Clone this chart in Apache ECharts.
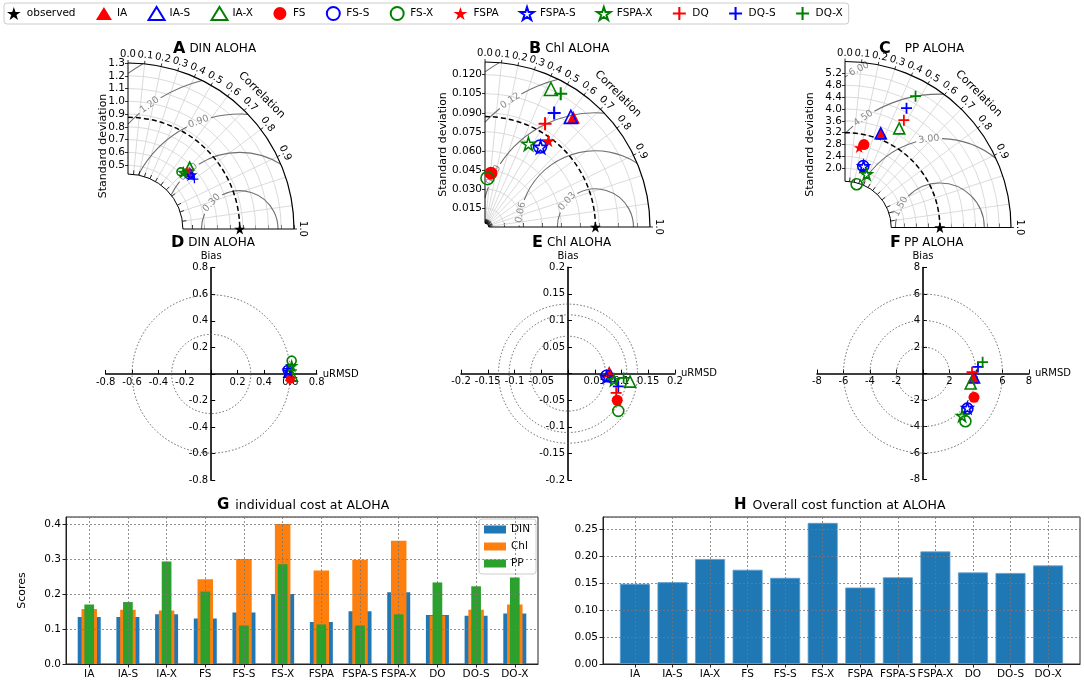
<!DOCTYPE html>
<html>
<head>
<meta charset="utf-8">
<script src="https://cdn.jsdelivr.net/npm/echarts@6.0.0/dist/echarts.min.js"></script>
<style>html,body{margin:0;padding:0;background:#fff}#c{width:1084px;height:686px}</style>
</head>
<body>
<div id="c"></div>
<script>
// ================= DATA =================
const models = ['IA','IA-S','IA-X','FS','FS-S','FS-X','FSPA','FSPA-S','FSPA-X','DQ','DQ-S','DQ-X'];

// Taylor diagrams: standard deviation and correlation of each model
const dinStd  = [0.650, 0.655, 0.690, 0.640, 0.640, 0.610, 0.645, 0.650, 0.620, 0.660, 0.650, 0.630];
const dinCorr = [0.730, 0.740, 0.700, 0.720, 0.750, 0.680, 0.735, 0.760, 0.700, 0.730, 0.800, 0.720];
const dinObsStd = 0.875;
const chlStd  = [0.1110, 0.1100, 0.1205, 0.0427, 0.0768, 0.0385, 0.0843, 0.0768, 0.0739, 0.0941, 0.1050, 0.1208];
const chlCorr = [0.627, 0.615, 0.431, 0.110, 0.565, 0.050, 0.593, 0.570, 0.463, 0.503, 0.519, 0.494];
const chlObsStd = 0.087;
const ppStd  = [3.37, 3.40, 3.81, 2.87, 2.16, 1.51, 2.74, 2.16, 1.94, 4.13, 4.53, 5.03];
const ppCorr = [0.360, 0.355, 0.480, 0.223, 0.285, 0.260, 0.175, 0.290, 0.375, 0.481, 0.458, 0.473];
const ppObsStd = 3.2;

// Taylor axis ticks / contour levels
const corrGridTicks  = [0.1, 0.2, 0.3, 0.4, 0.5, 0.6, 0.7, 0.8, 0.9, 0.95, 0.99];
const corrTickLabels = [0.0, 0.1, 0.2, 0.3, 0.4, 0.5, 0.6, 0.7, 0.8, 0.9, 1.0];
const dinStdTicks = [0.5, 0.6, 0.7, 0.8, 0.9, 1.0, 1.1, 1.2, 1.3];
const chlStdTicks = [0.015, 0.030, 0.045, 0.060, 0.075, 0.090, 0.105, 0.120];
const ppStdTicks  = [2.0, 2.4, 2.8, 3.2, 3.6, 4.0, 4.4, 4.8, 5.2];
const dinRmsLevels = [0.3, 0.6, 0.9, 1.2, 1.5];
const chlRmsLevels = [0.03, 0.06, 0.09, 0.12, 0.15];
const ppRmsLevels  = [1.5, 3.0, 4.5, 6.0];

// Target diagrams: unbiased RMSD and bias of each model
const dinURMSD = [0.600, 0.585, 0.620, 0.600, 0.580, 0.610, 0.605, 0.585, 0.610, 0.595, 0.575, 0.615];
const dinBias  = [0.000, 0.010, -0.020, -0.040, 0.030, 0.100, -0.030, 0.020, 0.060, -0.050, 0.040, 0.030];
const chlURMSD = [0.077, 0.080, 0.116, 0.092, 0.072, 0.094, 0.079, 0.072, 0.086, 0.090, 0.094, 0.104];
const chlBias  = [0.004, -0.005, -0.015, -0.050, -0.004, -0.070, -0.003, -0.006, -0.012, -0.036, -0.024, -0.008];
const ppURMSD  = [3.85, 3.85, 3.60, 3.85, 3.35, 3.20, 3.85, 3.35, 2.95, 3.70, 4.15, 4.50];
const ppBias   = [-0.30, -0.30, -0.75, -1.80, -2.65, -3.60, -1.80, -2.60, -3.20, 0.10, 0.50, 0.85];
const dinCircles = [0.3, 0.6];
const chlCircles = [0.07, 0.11, 0.13];
const ppCircles  = [2, 4, 6];

// Cost functions
const costCats = ['IA','IA-S','IA-X','FS','FS-S','FS-X','FSPA','FSPA-S','FSPA-X','DO','DO-S','DO-X'];
const costDIN = [0.134, 0.134, 0.142, 0.130, 0.147, 0.200, 0.120, 0.151, 0.205, 0.140, 0.138, 0.144];
const costChl = [0.157, 0.155, 0.153, 0.242, 0.300, 0.400, 0.267, 0.298, 0.352, 0.138, 0.155, 0.170];
const costPP  = [0.170, 0.177, 0.293, 0.207, 0.110, 0.285, 0.113, 0.110, 0.142, 0.233, 0.222, 0.247];
const costOverall = [0.149, 0.152, 0.195, 0.175, 0.160, 0.262, 0.142, 0.161, 0.209, 0.170, 0.169, 0.183];

// ================= STYLE =================
const FONT = 'DejaVu Sans';
const STAR = 'path://M50,0L61.2,34.5L97.6,34.5L68.2,55.9L79.4,90.5L50,69.1L20.6,90.5L31.8,55.9L2.4,34.5L38.8,34.5Z';
const PLUS = 'path://M42,0H58V42H100V58H58V100H42V58H0V42H42Z';
const COL = {r: '#ff0000', b: '#0000ff', g: '#008000'};
const markerDefs = [
  ['triangle','r',true], ['triangle','b',false], ['triangle','g',false],
  ['circle','r',true],   ['circle','b',false],   ['circle','g',false],
  [STAR,'r',true],       [STAR,'b',false],       [STAR,'g',false],
  [PLUS,'r',true],       [PLUS,'b',true],        [PLUS,'g',true]
];
function itemStyleFor(i) {
  const d = markerDefs[i];
  return d[2] ? {color: COL[d[1]], opacity: 1}
              : {color: 'rgba(255,255,255,0)', borderColor: COL[d[1]], borderWidth: 1.6, opacity: 1};
}

const taylorPanels = [
  {std: dinStd, corr: dinCorr, obs: dinObsStd, ticks: dinStdTicks, rms: dinRmsLevels, rmsLab: [137, 132, 111, 126, null],
   dec: 1, left: 128, bottom: 229, size: 166, rmax: 1.3, r0: 0.43, sym: 8, nameGap: 19},
  {std: chlStd, corr: chlCorr, obs: chlObsStd, ticks: chlStdTicks, rms: chlRmsLevels, rmsLab: [138, 169, 153, 124, null],
   dec: 3, left: 485, bottom: 227, size: 165, rmax: 0.13, r0: 0.003, sym: 13, nameGap: 36},
  {std: ppStd, corr: ppCorr, obs: ppObsStd, ticks: ppStdTicks, rms: ppRmsLevels, rmsLab: [152, 97, 125, 117],
   dec: 1, left: 845, bottom: 227.5, size: 166, rmax: 5.6, r0: 1.56, sym: 11, nameGap: 29}
];

const targetPanels = [
  {u: dinURMSD, b: dinBias, circles: dinCircles, lim: 0.8, step: 0.2, left: 105.7, top: 267.7, w: 211, h: 212.5, sym: 9},
  {u: chlURMSD, b: chlBias, circles: chlCircles, lim: 0.2, step: 0.05, left: 461, top: 267.3, w: 214, h: 212.7, sym: 11},
  {u: ppURMSD, b: ppBias, circles: ppCircles, lim: 8, step: 2, left: 817, top: 267.5, w: 212, h: 212, sym: 11}
];

// ================= BUILD =================
const grids = [], xAxes = [], yAxes = [], series = [];
const HALF = Math.PI / 2;

function taylorFrameRender(p) {
  return function (params, api) {
    const O = api.coord([0, 0]);
    const k = (api.coord([p.rmax, 0])[0] - O[0]) / p.rmax;
    const ptPx = (rp, th, c) => [(c || O)[0] + rp * Math.cos(th), (c || O)[1] - rp * Math.sin(th)];
    const arc = (c, r, th1, th2, style) => ({type: 'arc', silent: true,
      shape: {cx: c[0], cy: c[1], r: r, startAngle: -th2, endAngle: -th1, clockwise: true},
      style: Object.assign({fill: 'none'}, style)});
    const line = (a, b, style) => ({type: 'line', silent: true, shape: {x1: a[0], y1: a[1], x2: b[0], y2: b[1]}, style: style});
    const ch = [];
    const grey = {stroke: '#d2d2d2', lineWidth: 0.8};
    p.ticks.forEach(s => ch.push(arc(O, s * k, 0, HALF, grey)));
    corrGridTicks.forEach(c => {
      const th = Math.acos(c);
      ch.push(line(ptPx(p.r0 * k, th), ptPx(p.rmax * k, th), grey));
    });
    // centred RMS difference contours
    const C = ptPx(p.obs * k, 0);
    const d = p.obs;
    const cl = v => Math.max(-1, Math.min(1, v));
    p.rms.forEach((R, i) => {
      const ps = Math.acos(cl((p.rmax * p.rmax - d * d - R * R) / (2 * d * R)));
      const pe = Math.min(Math.acos(cl((p.r0 * p.r0 - d * d - R * R) / (2 * d * R))), Math.acos(cl(-d / R)));
      if (pe <= ps) return;
      const Rp = R * k;
      const st = {stroke: '#707070', lineWidth: 1.1};
      const lab = p.rmsLab[i];
      if (lab != null) {
        const phL = lab * Math.PI / 180;
        const g = 13 / Rp;
        if (phL - g > ps) ch.push(arc(C, Rp, ps, phL - g, st));
        if (pe > phL + g) ch.push(arc(C, Rp, phL + g, pe, st));
        const L = ptPx(Rp, phL, C);
        ch.push({type: 'text', silent: true, x: L[0], y: L[1], rotation: phL - HALF,
          style: {text: R.toFixed(2), fill: '#8a8a8a', fontSize: 9.5, fontFamily: FONT, align: 'center', verticalAlign: 'middle'}});
      } else {
        ch.push(arc(C, Rp, ps, pe, st));
      }
    });
    // observed std reference arc
    ch.push(arc(O, p.obs * k, 0, HALF, {stroke: '#000', lineWidth: 1.5, lineDash: [5, 3]}));
    // frame
    ch.push(arc(O, p.rmax * k, 0, HALF, {stroke: '#000', lineWidth: 1.2}));
    ch.push(arc(O, p.r0 * k, 0, HALF, {stroke: '#000', lineWidth: 1}));
    ch.push(line(ptPx(p.r0 * k, HALF), ptPx(p.rmax * k, HALF), {stroke: '#000', lineWidth: 1}));
    ch.push(line(ptPx(p.r0 * k, 0), ptPx(p.rmax * k, 0), {stroke: '#000', lineWidth: 1}));
    corrGridTicks.forEach(c => {
      const th = Math.acos(c);
      ch.push(line(ptPx(p.r0 * k, th), ptPx(p.r0 * k + 4, th), {stroke: '#000', lineWidth: 0.8}));
    });
    corrTickLabels.forEach(c => {
      const th = Math.acos(c);
      ch.push(line(ptPx(p.rmax * k, th), ptPx(p.rmax * k + 3, th), {stroke: '#000', lineWidth: 0.8}));
      const L = ptPx(p.rmax * k + 3.5, th);
      ch.push({type: 'text', silent: true, x: L[0], y: L[1], rotation: -Math.asin(Math.min(c, 1)),
        style: {text: c.toFixed(1), fill: '#000', fontSize: 10, fontFamily: FONT, align: 'center', verticalAlign: 'bottom'}});
    });
    const T = ptPx(p.rmax * k * 1.14, Math.PI / 4);
    ch.push({type: 'text', silent: true, x: T[0], y: T[1], rotation: -Math.PI / 4,
      style: {text: 'Correlation', fill: '#000', fontSize: 11, fontFamily: FONT, align: 'center', verticalAlign: 'middle'}});
    return {type: 'group', children: ch};
  };
}

function modelSeries(gi, pts, size) {
  return models.map((m, i) => ({
    type: 'scatter', name: m, xAxisIndex: gi, yAxisIndex: gi,
    symbol: markerDefs[i][0], symbolSize: size, itemStyle: itemStyleFor(i),
    data: [pts[i]], z: 5, clip: false, silent: true
  }));
}

// ---- Taylor diagrams (grids 0..2) ----
taylorPanels.forEach((p, gi) => {
  grids.push({left: p.left, top: p.bottom - p.size, width: p.size, height: p.size, containLabel: false, outerBoundsMode: 'none'});
  xAxes.push({gridIndex: gi, type: 'value', min: 0, max: p.rmax, axisLine: {show: false, onZero: false}, splitLine: {show: false},
    axisLabel: {show: false}, axisTick: {customValues: p.ticks, inside: true, length: 4, lineStyle: {color: '#000', width: 0.8}}});
  yAxes.push({gridIndex: gi, type: 'value', min: 0, max: p.rmax, axisLine: {show: false, onZero: false}, splitLine: {show: false},
    axisTick: {customValues: p.ticks, length: 3, lineStyle: {color: '#000', width: 0.8}},
    axisLabel: {customValues: p.ticks, formatter: v => v.toFixed(p.dec), fontSize: 10.5, color: '#000', fontFamily: FONT, margin: 3},
    name: 'Standard deviation', nameLocation: 'middle', nameGap: p.nameGap, nameRotate: 90, nameMoveOverlap: false,
    nameTextStyle: {fontSize: 11, color: '#000', fontFamily: FONT}});
  series.push({type: 'custom', xAxisIndex: gi, yAxisIndex: gi, data: [[0, 0]], renderItem: taylorFrameRender(p), z: 1, silent: true, clip: false});
  const pts = models.map((m, i) => [p.std[i] * p.corr[i], p.std[i] * Math.sqrt(1 - p.corr[i] * p.corr[i])]);
  series.push(...modelSeries(gi, pts, p.sym));
  series.push({type: 'scatter', name: 'observed', xAxisIndex: gi, yAxisIndex: gi, symbol: STAR, symbolSize: 11,
    itemStyle: {color: '#000', opacity: 1}, data: [[p.obs, 0]], z: 6, clip: false, silent: true});
});

// ---- Target diagrams (grids 3..5) ----
targetPanels.forEach((p, j) => {
  const gi = 3 + j;
  grids.push({left: p.left, top: p.top, width: p.w, height: p.h, containLabel: false, outerBoundsMode: 'none'});
  const fmt = v => Math.abs(v) < 1e-9 ? '' : String(parseFloat(v.toFixed(3)));
  const mk = (name, off) => ({gridIndex: gi, type: 'value', min: -p.lim, max: p.lim, interval: p.step,
    offset: off,
    splitLine: {show: false}, axisLine: {onZero: false, lineStyle: {color: '#000', width: 1.6}},
    axisTick: {inside: true, length: 4, lineStyle: {color: '#000', width: 1}},
    axisLabel: {formatter: fmt, fontSize: 10, color: '#000', fontFamily: FONT, margin: 3},
    name: name, nameLocation: 'end', nameGap: 6, nameMoveOverlap: false,
    nameTextStyle: {fontSize: 10, color: '#000', fontFamily: FONT}});
  xAxes.push(mk('uRMSD', -p.h / 2));
  yAxes.push(mk('Bias', -p.w / 2));
  series.push({type: 'custom', xAxisIndex: gi, yAxisIndex: gi, data: p.circles.map(r => [r, 0]), z: 1, silent: true, clip: false,
    renderItem: (params, api) => {
      const c = api.coord([0, 0]);
      const r = api.size([api.value(0), 0])[0];
      return {type: 'circle', silent: true, shape: {cx: c[0], cy: c[1], r: r},
        style: {fill: 'none', stroke: '#555', lineWidth: 0.9, lineDash: [1.5, 2]}};
    }});
  series.push(...modelSeries(gi, models.map((m, i) => [p.u[i], p.b[i]]), p.sym));
});

// ---- G: individual cost (grid 6, xAxis 6..8, yAxis 6) ----
const idx = costCats.map((c, i) => i);
const gridLine = {show: true, lineStyle: {color: '#777', width: 0.8, type: [2, 2]}};
grids.push({left: 66, top: 517, width: 472, height: 147, show: true, borderColor: '#222', borderWidth: 1, backgroundColor: 'rgba(0,0,0,0)', containLabel: false, outerBoundsMode: 'none'});
const gX = (show) => ({gridIndex: 6, type: 'value', min: -0.6, max: 11.6, show: show, position: 'bottom', z: 5,
  axisLine: {onZero: false, lineStyle: {color: '#222'}},
  axisTick: {customValues: idx, length: 3.5, lineStyle: {color: '#222'}},
  axisLabel: {customValues: idx, formatter: v => costCats[Math.round(v)] || '', fontSize: 10.5, color: '#000', fontFamily: FONT, margin: 5},
  splitLine: gridLine});
xAxes.push(gX(true), gX(false), gX(false));
yAxes.push({gridIndex: 6, type: 'value', min: 0, max: 0.42, interval: 0.1, z: 5,
  axisLine: {show: true, onZero: false, lineStyle: {color: '#222'}}, axisTick: {show: true, length: 3.5, lineStyle: {color: '#222'}},
  axisLabel: {formatter: v => v.toFixed(1), showMaxLabel: false, fontSize: 10.5, color: '#000', fontFamily: FONT, margin: 5},
  splitLine: gridLine, name: 'Scores', nameLocation: 'middle', nameGap: 38, nameRotate: 90, nameMoveOverlap: false,
  nameTextStyle: {fontSize: 11, color: '#000', fontFamily: FONT}});
series.push({type: 'bar', name: 'DIN', xAxisIndex: 6, yAxisIndex: 6, data: costDIN.map((v, i) => [i, v]), barWidth: 23, itemStyle: {color: '#1f77b4'}, z: 2, silent: true});
series.push({type: 'bar', name: 'Chl', xAxisIndex: 7, yAxisIndex: 6, data: costChl.map((v, i) => [i, v]), barWidth: 15.5, itemStyle: {color: '#ff7f0e'}, z: 3, silent: true});
series.push({type: 'bar', name: 'PP', xAxisIndex: 8, yAxisIndex: 6, data: costPP.map((v, i) => [i, v]), barWidth: 9.7, itemStyle: {color: '#2ca02c'}, z: 4, silent: true});

// ---- H: overall cost (grid 7, xAxis 9, yAxis 7) ----
grids.push({left: 603, top: 517, width: 477, height: 147, show: true, borderColor: '#222', borderWidth: 1, backgroundColor: 'rgba(0,0,0,0)', containLabel: false, outerBoundsMode: 'none'});
xAxes.push({gridIndex: 7, type: 'value', min: -0.85, max: 11.85, z: 5,
  axisLine: {onZero: false, lineStyle: {color: '#222'}},
  axisTick: {customValues: idx, length: 3.5, lineStyle: {color: '#222'}},
  axisLabel: {customValues: idx, formatter: v => costCats[Math.round(v)] || '', fontSize: 10.5, color: '#000', fontFamily: FONT, margin: 5},
  splitLine: gridLine});
yAxes.push({gridIndex: 7, type: 'value', min: 0, max: 0.273, interval: 0.05, z: 5,
  axisLine: {show: true, onZero: false, lineStyle: {color: '#222'}}, axisTick: {show: true, length: 3.5, lineStyle: {color: '#222'}},
  axisLabel: {formatter: v => v.toFixed(2), showMaxLabel: false, fontSize: 10.5, color: '#000', fontFamily: FONT, margin: 5},
  splitLine: gridLine});
series.push({type: 'bar', name: 'Overall', xAxisIndex: 9, yAxisIndex: 7, data: costOverall.map((v, i) => [i, v]), barWidth: 30,
  itemStyle: {color: '#1f77b4', borderColor: '#5d9fd0', borderWidth: 0.8}, z: 2, silent: true});

// ---- titles ----
function panelTitle(letter, text, left, top, big, small, pad) {
  return {text: '{b|' + letter + '}{n|' + text + '}', left: left, top: top, padding: 0,
    textStyle: {fontWeight: 'normal', rich: {
      b: {fontSize: big, fontWeight: 'bold', fontFamily: FONT, color: '#000'},
      n: {fontSize: small, fontWeight: 'normal', fontFamily: FONT, color: '#000', padding: [0, 0, 0, pad]}}}};
}

const option = {
  animation: false,
  backgroundColor: '#fff',
  textStyle: {fontFamily: FONT},
  title: [
    panelTitle('A', 'DIN ALOHA', 173, 41, 16, 12, 4),
    panelTitle('B', 'Chl ALOHA', 529, 41, 16, 12, 4),
    panelTitle('C', 'PP ALOHA', 879, 41, 16, 12, 14),
    panelTitle('D', 'DIN ALOHA', 171, 235, 16, 12, 4),
    panelTitle('E', 'Chl ALOHA', 532, 235, 16, 12, 4),
    panelTitle('F', 'PP ALOHA', 890, 235, 16, 12, 3),
    panelTitle('G', 'individual cost at ALOHA', 217, 498, 15, 12.5, 6),
    panelTitle('H', 'Overall cost function at ALOHA', 734, 498, 15, 12.5, 6)
  ],
  legend: [
    {data: ['observed'].concat(models), left: 4, top: 3, orient: 'horizontal', selectedMode: false,
     itemWidth: 16, itemHeight: 13, itemGap: 20.4, padding: [3, 6, 3, 3],
     borderColor: '#cccccc', borderWidth: 1, borderRadius: 3, backgroundColor: '#fff',
     textStyle: {fontSize: 10.5, color: '#000', fontFamily: FONT}},
    {data: ['DIN', 'Chl', 'PP'], left: 479, top: 519, orient: 'vertical', selectedMode: false, icon: 'rect',
     itemWidth: 22, itemHeight: 8, itemGap: 6, padding: [5, 6, 5, 5],
     borderColor: '#cccccc', borderWidth: 1, borderRadius: 3, backgroundColor: 'rgba(255,255,255,0.85)',
     textStyle: {fontSize: 10.5, color: '#000', fontFamily: FONT}}
  ],
  grid: grids,
  xAxis: xAxes,
  yAxis: yAxes,
  series: series
};

const chart = echarts.init(document.getElementById('c'), null, {renderer: 'canvas'});
chart.setOption(option);
</script>
</body>
</html>
